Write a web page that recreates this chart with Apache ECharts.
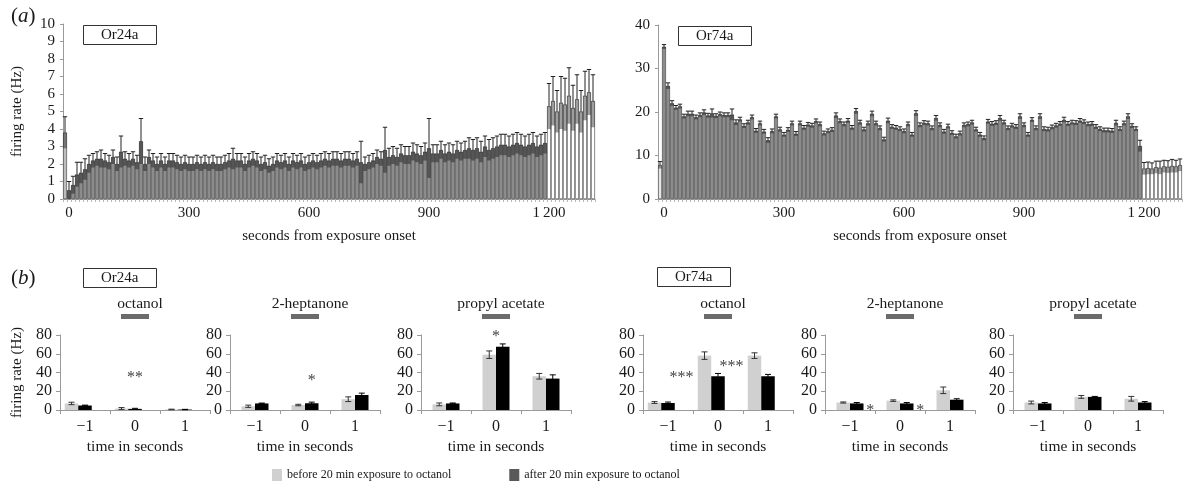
<!DOCTYPE html>
<html>
<head>
<meta charset="utf-8">
<script src="https://cdn.jsdelivr.net/npm/echarts@6/dist/echarts.min.js"></script>
<style>
html,body{margin:0;padding:0;background:#fff}
#chart{width:1186px;height:486px}
</style>
</head>
<body>
<div id="chart"></div>
<script>
// ---------- (a) firing rate in 10 s bins, from one bin before exposure onset ----------
const secondTicks = [0, 300, 600, 900, 1200];
const exposureEnd = 1200;           // odour switched off after 20 min
const firstBin = -10, binStep = 10;

const or24aRate = [3.8,
  0.5,0.8,1.4,1.5,1.7,2.0,2.2,2.3,2.3,2.2,
  2.1,2.4,2.0,2.7,2.3,2.2,2.3,2.1,3.3,2.0,
  2.4,2.2,2.0,2.2,2.0,2.2,2.2,2.1,2.0,2.1,
  2.0,2.0,2.1,2.0,2.1,2.0,2.1,2.0,2.0,2.1,
  2.2,2.3,2.2,2.2,2.0,2.2,2.3,2.2,2.0,2.1,
  1.9,2.0,2.2,2.1,2.2,2.0,2.2,2.1,2.2,2.0,
  2.1,2.2,2.1,2.2,2.3,2.2,2.3,2.3,2.2,2.3,
  2.3,2.2,2.3,2.1,2.0,2.1,2.2,2.4,2.3,2.8,
  2.4,2.5,2.4,2.6,2.5,2.5,2.7,2.6,2.5,2.7,
  2.9,2.6,2.6,2.8,2.6,2.7,2.6,2.8,2.7,2.8,
  2.9,2.8,2.9,2.7,3.0,2.8,2.9,3.0,3.1,3.1,
  3.0,3.1,3.2,3.1,3.0,3.1,3.2,3.0,3.1,3.2,
  5.3,5.6,5.0,5.5,5.4,5.9,5.2,5.7,5.0,5.9,6.1,5.6];
const or24aSem = [0.9,
  0.5,0.5,0.7,0.6,0.6,0.5,0.4,0.4,0.5,0.4,
  0.4,0.4,0.4,0.9,0.4,0.4,0.4,0.4,1.3,0.4,
  0.4,0.4,0.4,0.4,0.4,0.4,0.4,0.4,0.4,0.4,
  0.4,0.4,0.4,0.4,0.4,0.4,0.4,0.4,0.4,0.4,
  0.4,0.6,0.4,0.4,0.4,0.4,0.4,0.4,0.4,0.4,
  0.4,0.4,0.4,0.4,0.4,0.4,0.4,0.4,0.4,0.4,
  0.4,0.4,0.4,0.4,0.4,0.4,0.4,0.4,0.4,0.4,
  0.4,0.4,0.4,1.2,0.4,0.4,0.4,0.4,0.4,1.3,
  0.5,0.5,0.5,0.5,0.5,0.5,0.5,0.5,0.5,0.5,
  1.7,0.5,0.5,0.5,0.5,0.5,0.5,0.5,0.5,0.5,
  0.6,0.6,0.6,0.6,0.6,0.6,0.6,0.6,0.6,0.6,
  0.6,0.6,0.6,0.6,0.6,0.6,0.6,0.6,0.6,0.6,
  1.3,1.4,1.2,1.5,1.5,1.6,1.3,1.4,1.2,1.4,1.3,1.5];

const or74aRate = [7.8,
  35.0,26.0,22.0,21.0,21.3,19.0,19.6,19.6,18.8,19.3,
  19.9,19.2,19.7,19.1,19.5,19.3,19.3,19.4,17.6,18.3,
  16.8,17.6,18.8,15.7,17.4,15.5,13.5,15.6,19.0,16.0,
  14.8,15.9,17.4,15.0,17.4,16.4,17.1,16.9,17.9,17.2,
  15.1,15.6,15.9,19.2,17.9,17.2,18.0,16.4,20.2,17.6,
  16.0,17.4,19.6,17.4,16.3,13.7,18.0,16.6,16.4,16.1,
  15.6,17.2,14.8,19.7,17.0,17.5,17.4,16.3,18.6,17.0,
  15.5,16.7,15.2,14.4,15.1,17.0,17.2,17.6,16.0,14.8,
  14.0,17.8,17.3,17.5,18.6,17.6,16.3,16.9,16.6,19.0,
  17.0,14.8,18.2,16.3,19.0,16.1,16.0,16.5,16.9,17.3,
  18.2,17.3,17.6,17.5,18.0,17.7,17.2,17.3,16.6,16.1,
  15.8,15.8,15.7,17.5,16.1,17.4,19.0,16.8,16.1,12.2,
  7.0,7.1,7.0,7.3,7.2,7.5,7.4,7.6,7.5,7.8];
const or74aSem = [0.8,
  0.5,0.7,0.6,0.5,0.5,0.5,0.6,0.6,0.5,0.5,
  0.6,0.5,1.0,0.5,0.5,0.5,0.5,1.3,0.6,0.5,
  0.5,0.5,0.5,0.5,0.5,0.5,0.6,0.5,0.5,0.5,
  0.5,0.5,0.5,0.5,0.5,0.5,0.5,0.5,0.5,0.5,
  0.5,0.5,0.5,0.6,0.5,0.5,0.5,0.5,0.6,0.5,
  0.5,0.5,0.6,0.5,0.5,0.5,0.6,0.5,0.5,0.5,
  0.5,0.5,0.5,0.6,0.5,0.5,0.5,0.5,0.6,0.5,
  0.5,0.5,0.5,0.5,0.5,0.5,0.5,0.5,0.5,0.5,
  0.5,0.5,0.5,0.5,0.6,0.5,0.5,0.5,0.5,0.6,
  0.5,0.5,0.5,0.5,0.6,0.5,0.5,0.5,0.5,0.5,
  0.6,0.5,0.5,0.5,0.5,0.5,0.5,0.5,0.5,0.5,
  0.5,0.5,0.5,0.6,0.5,0.5,0.6,0.5,0.5,1.3,
  1.4,1.4,1.3,1.4,1.5,1.4,1.4,1.5,1.4,1.4];

// ---------- (b) mean rate per second around the 1 s odour pulse ----------
const timeLabels = ['\u22121', '0', '1'];
const BEFORE = 'before 20 min exposure to octanol';
const AFTER = 'after 20 min exposure to octanol';

const or24aOctanolBefore = [7.0, 1.6, 0.6];
const or24aOctanolBeforeSem = [1.3, 1.0, 0.3];
const or24aOctanolAfter = [4.8, 1.2, 0.5];
const or24aOctanolAfterSem = [0.4, 0.6, 0.2];
const or24aOctanolStars = [{time: 1, level: 39, text: '**'}];

const or24aHeptanoneBefore = [4.0, 5.3, 11.5];
const or24aHeptanoneBeforeSem = [1.2, 0.8, 2.5];
const or24aHeptanoneAfter = [7.0, 7.2, 16.0];
const or24aHeptanoneAfterSem = [0.4, 1.2, 2.0];
const or24aHeptanoneStars = [{time: 1, level: 35, text: '*'}];

const or24aPropylBefore = [6.0, 59.0, 36.0];
const or24aPropylBeforeSem = [1.5, 4.0, 3.0];
const or24aPropylAfter = [7.0, 67.5, 33.5];
const or24aPropylAfterSem = [0.5, 3.0, 4.0];
const or24aPropylStars = [{time: 1, level: 82, text: '*'}];

const or74aOctanolBefore = [8.0, 58.0, 58.0];
const or74aOctanolBeforeSem = [1.0, 4.0, 3.0];
const or74aOctanolAfter = [7.5, 36.0, 36.0];
const or74aOctanolAfterSem = [1.0, 3.0, 2.0];
const or74aOctanolStars = [{time: 0, level: 39, text: '***'}, {time: 1, level: 50, text: '***'}];

const or74aHeptanoneBefore = [8.0, 10.0, 21.0];
const or74aHeptanoneBeforeSem = [0.6, 0.8, 3.5];
const or74aHeptanoneAfter = [7.0, 7.0, 11.0];
const or74aHeptanoneAfterSem = [1.0, 1.0, 1.0];
const or74aHeptanoneStars = [{time: 0, level: 3, text: '*'}, {time: 1, level: 3, text: '*'}];

const or74aPropylBefore = [8.0, 14.0, 12.0];
const or74aPropylBeforeSem = [1.5, 1.5, 2.5];
const or74aPropylAfter = [7.0, 14.0, 8.0];
const or74aPropylAfterSem = [1.0, 0.5, 1.0];
const or74aPropylStars = [];

// ---------- styling and layout ----------
const FONT = 'Liberation Serif';
const INK = '#1a1a1a';
const AXIS_GREY = '#9a9a9a';
const LIGHT = '#d0d0d0';
const DARK = '#000000';
const LEGEND_DARK = '#595959';
const BAR_W = 13.5;

const panels = [
  {odour: 'octanol', before: or24aOctanolBefore, beforeSem: or24aOctanolBeforeSem, after: or24aOctanolAfter, afterSem: or24aOctanolAfterSem, stars: or24aOctanolStars},
  {odour: '2-heptanone', before: or24aHeptanoneBefore, beforeSem: or24aHeptanoneBeforeSem, after: or24aHeptanoneAfter, afterSem: or24aHeptanoneAfterSem, stars: or24aHeptanoneStars},
  {odour: 'propyl acetate', before: or24aPropylBefore, beforeSem: or24aPropylBeforeSem, after: or24aPropylAfter, afterSem: or24aPropylAfterSem, stars: or24aPropylStars},
  {odour: 'octanol', before: or74aOctanolBefore, beforeSem: or74aOctanolBeforeSem, after: or74aOctanolAfter, afterSem: or74aOctanolAfterSem, stars: or74aOctanolStars},
  {odour: '2-heptanone', before: or74aHeptanoneBefore, beforeSem: or74aHeptanoneBeforeSem, after: or74aHeptanoneAfter, afterSem: or74aHeptanoneAfterSem, stars: or74aHeptanoneStars},
  {odour: 'propyl acetate', before: or74aPropylBefore, beforeSem: or74aPropylBeforeSem, after: or74aPropylAfter, afterSem: or74aPropylAfterSem, stars: or74aPropylStars}
];
// slots: bars per cluster (3 = an empty slot to the right); starSlot: which slot the star sits over
const panelLayout = [
  {left: 60, slots: 3, starSlot: 1},
  {left: 230, slots: 2, starSlot: 1},
  {left: 421, slots: 2, starSlot: 0.5},
  {left: 643, slots: 3, starSlot: 2},
  {left: 825, slots: 2, starSlot: 2},
  {left: 1013, slots: 2, starSlot: 2}
];
const SMALL_TOP = 335, SMALL_H = 75, SMALL_W = 150;

function binsFor(values) {
  const out = [];
  for (let i = 0; i < values.length; i++) out.push(String(firstBin + binStep * i));
  return out;
}

function binColour(sec, preColour) {
  if (sec < 0) return preColour;
  if (sec >= exposureEnd) return '#ffffff';
  return '#8c8c8c';
}

function secondsLabel(v) {
  return String(v).replace(/\B(?=(\d{3})+(?!\d))/g, '\u2009');
}

const grids = [], xAxes = [], yAxes = [], series = [], titles = [];

function timecourse(rate, sem, grid, yMax, yInterval, preColour, yName) {
  const idx = grids.length;
  grids.push(grid);
  const bins = binsFor(rate);
  xAxes.push({
    type: 'category', gridIndex: idx, data: bins, boundaryGap: true,
    axisLine: {lineStyle: {color: AXIS_GREY, width: 1}},
    axisTick: {show: true, interval: 0, length: 3, lineStyle: {color: '#b8b8b8'}},
    axisLabel: {
      interval: (i, v) => secondTicks.includes(Number(v)),
      formatter: v => secondsLabel(v),
      fontFamily: FONT, fontSize: 15, color: INK, margin: 7
    },
    name: 'seconds from exposure onset', nameLocation: 'middle', nameGap: 30,
    nameTextStyle: {fontFamily: FONT, fontSize: 15, color: INK}
  });
  yAxes.push({
    type: 'value', gridIndex: idx, min: 0, max: yMax, interval: yInterval,
    axisLine: {show: true, lineStyle: {color: AXIS_GREY}},
    axisTick: {show: true, length: 3, lineStyle: {color: AXIS_GREY}},
    splitLine: {show: false},
    axisLabel: {fontFamily: FONT, fontSize: 15, color: INK, margin: 8},
    name: yName || '', nameLocation: 'middle', nameGap: 38,
    nameTextStyle: {fontFamily: FONT, fontSize: 15, color: INK}
  });
  series.push({
    type: 'bar', xAxisIndex: idx, yAxisIndex: idx, barCategoryGap: '4%',
    silent: true,
    data: rate.map((v, i) => ({
      value: v,
      itemStyle: {color: binColour(Number(bins[i]), preColour), borderColor: '#3a3a3a', borderWidth: 0.6}
    }))
  });
  series.push({
    type: 'custom', xAxisIndex: idx, yAxisIndex: idx, silent: true, z: 5,
    data: rate.map((v, i) => [i, v, sem[i]]),
    renderItem: function (params, api) {
      const i = api.value(0), m = api.value(1), e = api.value(2);
      const top = api.coord([i, m + e]);
      const mid = api.coord([i, m]);
      const low = api.coord([i, Math.max(0, m - e)]);
      const w = api.size([1, 0])[0];
      return {type: 'group', children: [
        {type: 'rect', shape: {x: mid[0] - w * 0.45, y: mid[1], width: w * 0.9, height: low[1] - mid[1]},
          style: {fill: 'rgba(0,0,0,0.38)'}},
        {type: 'line', shape: {x1: mid[0], y1: mid[1], x2: top[0], y2: top[1]},
          style: {stroke: '#222', lineWidth: 1}},
        {type: 'line', shape: {x1: top[0] - w * 0.55, y1: top[1], x2: top[0] + w * 0.55, y2: top[1]},
          style: {stroke: '#222', lineWidth: 1}}
      ]};
    }
  });
}

timecourse(or24aRate, or24aSem, {left: 63, top: 24, width: 532, height: 175}, 10, 1, '#bdbdbd', 'firing rate (Hz)');
timecourse(or74aRate, or74aSem, {left: 658, top: 25, width: 524, height: 174}, 40, 10, '#e6e6e6', '');

panels.forEach((p, k) => {
  const lay = panelLayout[k];
  const idx = grids.length;
  grids.push({left: lay.left, top: SMALL_TOP, width: SMALL_W, height: SMALL_H});
  xAxes.push({
    type: 'category', gridIndex: idx, data: timeLabels, boundaryGap: true,
    axisLine: {lineStyle: {color: AXIS_GREY}},
    axisTick: {show: true, length: 4, lineStyle: {color: AXIS_GREY}},
    axisLabel: {fontFamily: FONT, fontSize: 16, color: INK, margin: 9},
    name: 'time in seconds', nameLocation: 'middle', nameGap: 29,
    nameTextStyle: {fontFamily: FONT, fontSize: 15.5, color: INK}
  });
  yAxes.push({
    type: 'value', gridIndex: idx, min: 0, max: 80, interval: 20,
    axisLine: {show: true, lineStyle: {color: AXIS_GREY}},
    axisTick: {show: true, length: 4, lineStyle: {color: AXIS_GREY}},
    splitLine: {show: false},
    axisLabel: {fontFamily: FONT, fontSize: 16, color: INK, margin: 8},
    name: k === 0 ? 'firing rate (Hz)' : '', nameLocation: 'middle', nameGap: 35,
    nameTextStyle: {fontFamily: FONT, fontSize: 15, color: INK}
  });
  const barCommon = {type: 'bar', xAxisIndex: idx, yAxisIndex: idx, barWidth: BAR_W, barGap: '0%', silent: true};
  series.push(Object.assign({name: BEFORE, data: p.before, itemStyle: {color: LIGHT}}, barCommon));
  series.push(Object.assign({name: AFTER, data: p.after, itemStyle: {color: DARK}}, barCommon));
  if (lay.slots === 3) {
    series.push(Object.assign({name: 'spare', data: [0, 0, 0], itemStyle: {color: 'rgba(0,0,0,0)'}}, barCommon));
  }
  const slotX = s => (s - (lay.slots - 1) / 2) * BAR_W;
  // error bars on both groups
  const errData = [];
  p.before.forEach((v, i) => errData.push([i, v, p.beforeSem[i], 0]));
  p.after.forEach((v, i) => errData.push([i, v, p.afterSem[i], 1]));
  series.push({
    type: 'custom', xAxisIndex: idx, yAxisIndex: idx, silent: true, z: 5,
    data: errData,
    renderItem: function (params, api) {
      const i = api.value(0), m = api.value(1), e = api.value(2), s = api.value(3);
      const dx = slotX(s);
      const t = api.coord([i, m + e]);
      const b = api.coord([i, Math.max(0, m - e)]);
      const x = t[0] + dx;
      const stroke = s === 0 ? '#333' : '#000';
      return {type: 'group', children: [
        {type: 'line', shape: {x1: x, y1: b[1], x2: x, y2: t[1]}, style: {stroke: stroke, lineWidth: 1}},
        {type: 'line', shape: {x1: x - 3, y1: t[1], x2: x + 3, y2: t[1]}, style: {stroke: stroke, lineWidth: 1}},
        {type: 'line', shape: {x1: x - 3, y1: b[1], x2: x + 3, y2: b[1]}, style: {stroke: stroke, lineWidth: 1}}
      ]};
    }
  });
  // significance marks
  if (p.stars.length) {
    series.push({
      type: 'custom', xAxisIndex: idx, yAxisIndex: idx, silent: true, clip: false, z: 6,
      data: p.stars.map(st => [st.time, st.level]),
      renderItem: function (params, api) {
        const c = api.coord([api.value(0), api.value(1)]);
        return {type: 'text', x: c[0] + slotX(lay.starSlot), y: c[1] + 4,
          style: {text: p.stars[params.dataIndex].text, fontFamily: FONT, fontSize: 16,
            fill: '#444', align: 'center', verticalAlign: 'middle'}};
      }
    });
  }
  // odour pulse marker above the stimulus second
  series.push({
    type: 'custom', xAxisIndex: idx, yAxisIndex: idx, silent: true, clip: false,
    data: [[1, 80]],
    renderItem: function (params, api) {
      const c = api.coord([api.value(0), api.value(1)]);
      return {type: 'rect', shape: {x: c[0] - 14, y: c[1] - 21, width: 28, height: 5},
        style: {fill: '#6b6b6b'}};
    }
  });
  titles.push({text: p.odour, left: lay.left + SMALL_W / 2, top: 291, textAlign: 'center',
    textStyle: {fontFamily: FONT, fontSize: 15.5, fontWeight: 'normal', color: INK}});
});

const boxTitle = (text, left, top) => ({
  text: text, left: left, top: top, padding: [2, 18, 1, 18],
  borderColor: '#333', borderWidth: 1,
  textStyle: {fontFamily: FONT, fontSize: 15, fontWeight: 'normal', color: INK, lineHeight: 17}
});
titles.push(boxTitle('Or24a', 83, 25));
titles.push(boxTitle('Or74a', 678, 26));
titles.push(boxTitle('Or24a', 83, 268));
titles.push(boxTitle('Or74a', 657, 267));

const panelTag = (letter, top) => ({
  text: '{p|(}{i|' + letter + '}{p|)}', left: 6, top: top,
  textStyle: {fontWeight: 'normal', rich: {
    p: {fontFamily: FONT, fontSize: 21, fontWeight: 'normal', color: INK},
    i: {fontFamily: FONT, fontSize: 21, fontWeight: 'normal', fontStyle: 'italic', color: INK}
  }}
});
titles.push(panelTag('a', 1));
titles.push(panelTag('b', 263));

const chart = echarts.init(document.getElementById('chart'), null, {renderer: 'canvas'});
chart.setOption({
  animation: false,
  backgroundColor: '#ffffff',
  title: titles,
  grid: grids,
  xAxis: xAxes,
  yAxis: yAxes,
  legend: {
    data: [{name: BEFORE, itemStyle: {color: LIGHT}}, {name: AFTER, itemStyle: {color: LEGEND_DARK}}],
    left: 272, top: 469, padding: 0, icon: 'rect', itemWidth: 10, itemHeight: 12, itemGap: 58,
    selectedMode: false,
    textStyle: {fontFamily: FONT, fontSize: 12, color: INK}
  },
  series: series
});
</script>
</body>
</html>
